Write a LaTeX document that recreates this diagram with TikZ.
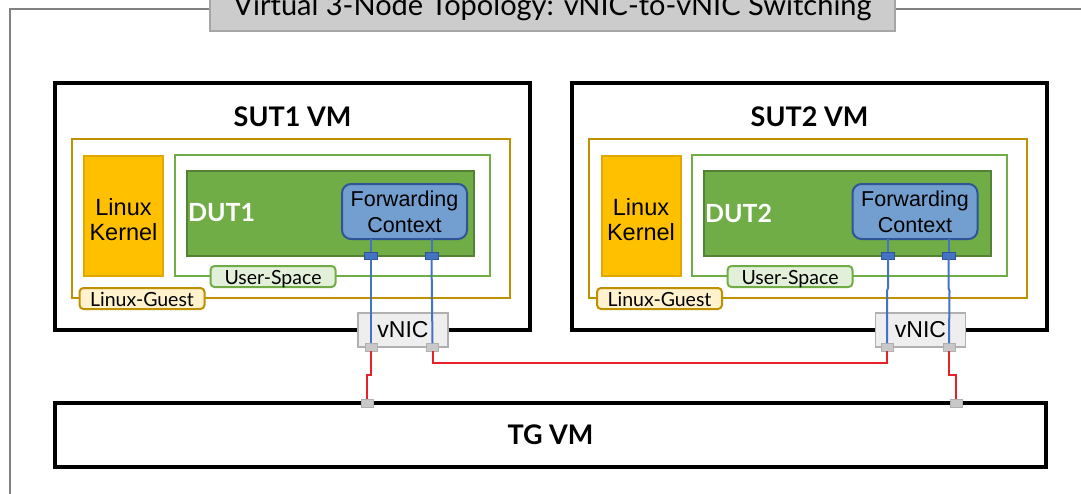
\documentclass[tikz,border=0pt]{standalone}
\usepackage{fontspec}
\setmainfont{Lato}
\newfontfamily\arialfont{Liberation Sans}
\usetikzlibrary{positioning}

\definecolor{frameGray}{HTML}{808080}
\definecolor{titleFill}{HTML}{CCCCCC}
\definecolor{titleBorder}{HTML}{A6A6A6}
\definecolor{guestGold}{HTML}{BF9000}
\definecolor{guestFill}{HTML}{FFF2CC}
\definecolor{kernelFill}{HTML}{FFC000}
\definecolor{kernelBorder}{HTML}{E0A800}
\definecolor{userGreen}{HTML}{70AD47}
\definecolor{userFill}{HTML}{E2F0D9}
\definecolor{dutBorder}{HTML}{548235}
\definecolor{fwdFill}{HTML}{729FCF}
\definecolor{fwdBorder}{HTML}{2F5597}
\definecolor{portBlue}{HTML}{4472C4}
\definecolor{vnicFill}{HTML}{EEEEEE}
\definecolor{vnicBorder}{HTML}{B0B0B0}
\definecolor{linkRed}{HTML}{E8202A}

\begin{document}
\begin{tikzpicture}[
  x=1pt, y=-1pt,
  every node/.style={inner sep=0pt, outer sep=0pt},
  vmbox/.style={draw=black, line width=4pt, fill=white, minimum width=475pt, minimum height=247pt},
  vmlabel/.style={font=\fontsize{27}{30}\selectfont\bfseries},
  guestbox/.style={draw=guestGold, line width=2.5pt, minimum width=438pt, minimum height=159pt},
  kernelbox/.style={draw=kernelBorder, line width=2pt, fill=kernelFill, minimum width=79pt, minimum height=120pt},
  kerneltext/.style={align=center, font=\arialfont\fontsize{23.5}{25}\selectfont},
  userbox/.style={draw=userGreen, line width=2.5pt, minimum width=315pt, minimum height=121pt},
  dutbox/.style={draw=dutBorder, line width=2pt, fill=userGreen, minimum width=287pt, minimum height=85pt},
  duttext/.style={text=white, font=\fontsize{25}{30}\selectfont\bfseries, anchor=west},
  fwdbox/.style={draw=fwdBorder, line width=2pt, fill=fwdFill, rounded corners=9pt, align=center, minimum width=125pt, minimum height=55pt, font=\arialfont\fontsize{21.5}{26}\selectfont},
  tagbox/.style={line width=2pt, rounded corners=4pt, minimum width=125pt, minimum height=21pt,
    text height=15pt, text depth=0pt, font=\fontsize{19.5}{22}\selectfont},
  vnicbox/.style={draw=vnicBorder, line width=1.5pt, fill=vnicFill, minimum width=90pt, minimum height=34pt, font=\arialfont\fontsize{23}{26}\selectfont},
  dutport/.style={draw=fwdBorder, line width=1pt, fill=portBlue, minimum width=13pt, minimum height=7pt},
  nicport/.style={draw=vnicBorder, line width=1pt, fill=vnicBorder!70, minimum width=12pt, minimum height=8pt},
  bluelink/.style={draw=portBlue, line width=2pt},
  redlink/.style={draw=linkRed, line width=2pt}
]
\useasboundingbox (0,0) rectangle (1081,493);

% outer frame and title
\draw[frameGray, line width=2pt] (1100,9) -- (10,9) -- (10,510);
\node[draw=titleBorder, line width=1.5pt, fill=titleFill, minimum width=685pt, minimum height=52pt,
      text height=22pt, text depth=2pt, font=\fontsize{29}{32}\selectfont] (title) at (552.5,5)
  {Virtual 3-Node Topology: vNIC-to-vNIC Switching};

% SUT1
\node[vmbox] (sut1) at (292.5,206.5) {};
\node[vmlabel] (sut1lbl) at (292.5,117) {SUT1 VM};
\node[guestbox] (guest1) at (291,218.5) {};
\node[kernelbox] (kernel1) at (123.5,216) {};
\node[kerneltext] (kernel1lbl) at ([yshift=-4pt]kernel1.center) {Linux\\Kernel};
\node[userbox] (user1) at (332.5,215.5) {};
\node[dutbox] (dut1) at (330.5,213.5) {};
\node[duttext] (dut1lbl) at (188,213) {DUT1};
\node[fwdbox] (fwd1) at (404.5,211.5) {Forwarding\\Context};
\node[tagbox, draw=userGreen, fill=userFill] (user1lbl) at (273,276.5) {User-Space};
\node[tagbox, draw=guestGold, fill=guestFill] (guest1lbl) at (142,298.5) {Linux-Guest};

% SUT2
\node[vmbox] (sut2) at (809.5,206.5) {};
\node[vmlabel] (sut2lbl) at (809.5,117) {SUT2 VM};
\node[guestbox] (guest2) at (808,218.5) {};
\node[kernelbox] (kernel2) at (641,216) {};
\node[kerneltext] (kernel2lbl) at ([yshift=-4pt]kernel2.center) {Linux\\Kernel};
\node[userbox] (user2) at (849.5,215.5) {};
\node[dutbox] (dut2) at (847.5,213.5) {};
\node[duttext] (dut2lbl) at (705,213) {DUT2};
\node[fwdbox] (fwd2) at (915,211.5) {Forwarding\\Context};
\node[tagbox, draw=userGreen, fill=userFill] (user2lbl) at (790,276.5) {User-Space};
\node[tagbox, draw=guestGold, fill=guestFill] (guest2lbl) at (659.5,298.5) {Linux-Guest};

% vNICs
\node[vnicbox] (vnic1) at (403,330) {vNIC};
\node[vnicbox] (vnic2) at (920.5,330) {vNIC};

% TG
\node[vmbox, minimum width=991pt, minimum height=64pt] (tg) at (550.5,435) {};
\node[vmlabel] (tglbl) at (tg) {TG VM};

% port anchors
\node[dutport] (p1a) at (371,255.5) {};
\node[dutport] (p1b) at (431.5,255.5) {};
\node[dutport] (p2a) at (888,255.5) {};
\node[dutport] (p2b) at (948.5,255.5) {};
\node[nicport] (v1a) at (371,347) {};
\node[nicport] (v1b) at (432.5,347) {};
\node[nicport] (v2a) at (887,347) {};
\node[nicport] (v2b) at (949,347) {};
\node[nicport] (t1a) at (367,403) {};
\node[nicport] (t2a) at (956,403) {};

% links
\draw[bluelink] (fwd1.south -| p1a) -- (p1a.north);
\draw[bluelink] (fwd1.south -| p1b) -- (p1b.north);
\draw[bluelink] (fwd2.south -| p2a) -- (p2a.north);
\draw[bluelink] (fwd2.south -| p2b) -- (p2b.north);
\draw[bluelink] (p1a.south) -- (v1a.north);
\draw[bluelink] (p1b.south) -- (v1b.north);
\draw[bluelink] (p2a.south) -- ++(0,29) -- ++(-1,3) -- (v2a.north);
\draw[bluelink] (p2b.south) -- ++(0,29) -- ++(1,3) -- (v2b.north);
\draw[redlink] (v1a.south) -- ++(0,24) -| (t1a.north);
\draw[redlink] (v1b.south) -- ++(0,12) -| (v2a.south);
\draw[redlink] (v2b.south) -- ++(0,24) -| (t2a.north);
\end{tikzpicture}
\end{document}
